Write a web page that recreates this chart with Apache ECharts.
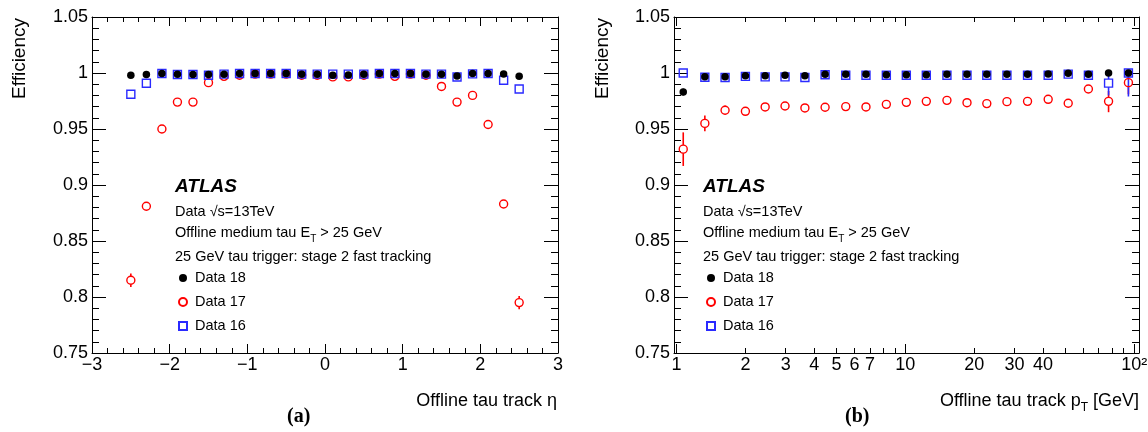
<!DOCTYPE html>
<html><head><meta charset="utf-8">
<script src="https://cdn.jsdelivr.net/npm/echarts@6/dist/echarts.min.js"></script>
<style>html,body{margin:0;padding:0;background:#fff}#c{width:1148px;height:432px}</style>
</head><body><div id="c"></div>
<script>
// ---------- data ----------
const etaBins = [-2.5,-2.3,-2.1,-1.9,-1.7,-1.5,-1.3,-1.1,-0.9,-0.7,-0.5,-0.3,-0.1,0.1,0.3,0.5,0.7,0.9,1.1,1.3,1.5,1.7,1.9,2.1,2.3,2.5];
const eta18 = [0.998,0.9986,0.9995,0.9988,0.9986,0.9986,0.9988,0.9995,0.9995,0.9995,0.9995,0.9988,0.9988,0.998,0.9982,0.9988,0.9995,0.9995,0.9995,0.9988,0.9988,0.9973,0.9995,0.9995,0.9991,0.997];
const eta17 = [0.815,0.881,0.950,0.974,0.974,0.9914,0.997,0.998,0.999,0.999,0.999,0.998,0.998,0.9965,0.9965,0.998,0.999,0.997,0.999,0.998,0.988,0.974,0.980,0.954,0.883,0.795];
const eta16 = [0.981,0.9908,0.9995,0.9986,0.9986,0.998,0.999,0.9995,0.9995,0.9995,0.9995,0.999,0.999,0.999,0.999,0.999,0.9995,0.9995,0.9995,0.999,0.999,0.9964,0.9992,0.9995,0.9935,0.9857];
const eta17Err = [[-2.5,0.809,0.821],[2.5,0.789,0.801]];

const ptBins = [1.07,1.33,1.63,2.0,2.44,2.98,3.64,4.46,5.49,6.73,8.26,10.1,12.35,15.2,18.6,22.7,27.8,34.2,42.1,51.5,63.1,77.3,94.4];
const pt18 = [0.983,0.9967,0.9967,0.9976,0.9976,0.998,0.9976,0.9988,0.9988,0.9988,0.9985,0.9985,0.9985,0.9988,0.9988,0.9988,0.9988,0.9988,0.999,0.9997,0.9988,1.0,1.0];
const pt17 = [0.932,0.955,0.9667,0.9658,0.9697,0.9705,0.9688,0.9694,0.970,0.9697,0.972,0.9738,0.9747,0.9756,0.9735,0.9727,0.9744,0.9747,0.9765,0.973,0.9857,0.9747,0.9914];
const pt16 = [1.0,0.9962,0.996,0.997,0.9965,0.9965,0.996,0.9985,0.998,0.998,0.998,0.998,0.998,0.998,0.998,0.998,0.998,0.998,0.998,0.999,0.998,0.991,1.0];
const pt18Err = [[1.07,0.980,0.986]];
const pt17Err = [[1.07,0.917,0.947],[1.33,0.948,0.962],[1.63,0.963,0.971],[63.1,0.9825,0.989],[77.3,0.965,0.984],[94.4,0.981,1.0]];
const pt16Err = [[1.07,0.997,1.0],[77.3,0.980,0.999],[94.4,0.979,1.0]];

const yTickLabels = ['0.75','0.8','0.85','0.9','0.95','1','1.05'];
const ptLabelValues = [1,2,3,4,5,6,7,10,20,30,40,100];
const ptMajorTicks = [1,10,100];
const ptMinorTicks = [2,3,4,5,6,7,8,9,20,30,40,50,60,70,80,90];
const names = ['Data 18','Data 17','Data 16'];

// ---------- styles ----------
const FONT = "'Liberation Sans', Arial, Helvetica, sans-serif";
const C18 = '#000000', C17 = '#ff0000', C16 = '#2a2aff';
const pair = (xs, ys) => xs.map((x,i) => [x, ys[i]]);
const withY = (errs, xs, ys) => errs.map(e => [e[0], ys[xs.indexOf(e[0])], e[1], e[2]]);

function errRender(color, r) {
  return function (params, api) {
    const x = api.value(0), y = api.value(1), lo = api.value(2), hi = api.value(3);
    const pc = api.coord([x, y]), ph = api.coord([x, hi]), pl = api.coord([x, lo]);
    const ch = [];
    if (pc[1] - ph[1] > r) ch.push({type:'line', shape:{x1:pc[0],y1:ph[1],x2:pc[0],y2:pc[1]-r}, style:{stroke:color,lineWidth:1.6}});
    if (pl[1] - pc[1] > r) ch.push({type:'line', shape:{x1:pc[0],y1:pc[1]+r,x2:pc[0],y2:pl[1]}, style:{stroke:color,lineWidth:1.6}});
    return {type:'group', children: ch};
  };
}

function seriesSet(xi, yi, xs, d18, d17, d16, e18, e17, e16) {
  const s = [];
  const err = (errs, ys, color, r) => ({
    type:'custom', xAxisIndex:xi, yAxisIndex:yi, renderItem: errRender(color, r),
    encode:{x:0, y:1}, data: withY(errs, xs, ys), silent:true, z:2
  });
  s.push(err(e17, d17, C17, 4));
  s.push({name:names[1], type:'scatter', xAxisIndex:xi, yAxisIndex:yi, data:pair(xs,d17),
    symbol:'circle', symbolSize:8, itemStyle:{color:'rgba(255,255,255,0)', borderColor:C17, borderWidth:1.4, opacity:1}, z:3});
  s.push(err(e16, d16, C16, 4));
  s.push({name:names[2], type:'scatter', xAxisIndex:xi, yAxisIndex:yi, data:pair(xs,d16),
    symbol:'rect', symbolSize:8, itemStyle:{color:'rgba(255,255,255,0)', borderColor:C16, borderWidth:1.4, opacity:1}, z:4});
  s.push(err(e18, d18, C18, 3));
  s.push({name:names[0], type:'scatter', xAxisIndex:xi, yAxisIndex:yi, data:pair(xs,d18),
    symbol:'circle', symbolSize:7.5, itemStyle:{color:C18, opacity:1}, z:5});
  return s;
}

const lineStyle = {color:'#000', width:1};
function yAxisDef(gi, pos, labels) {
  return {
    type:'value', gridIndex:gi, position:pos, min:0.75, max:1.05, interval:0.05,
    axisLine:{show:true, onZero:false, lineStyle},
    axisTick:{show:true, inside:true, length:14, lineStyle},
    minorTick:{show:true, splitNumber:5, length:7, lineStyle},
    splitLine:{show:false}, minorSplitLine:{show:false},
    axisLabel:{show:labels, margin:4, fontFamily:FONT, fontSize:18, color:'#000',
      formatter: v => yTickLabels[Math.round((v-0.75)/0.05)]}
  };
}
function etaAxis(pos, labels) {
  return {
    type:'value', gridIndex:0, position:pos, min:-3, max:3, interval:1,
    axisLine:{show:true, onZero:false, lineStyle},
    axisTick:{show:true, inside:true, length:9, lineStyle},
    minorTick:{show:true, splitNumber:5, length:5, lineStyle},
    splitLine:{show:false}, minorSplitLine:{show:false},
    axisLabel:{show:labels, margin:3, fontFamily:FONT, fontSize:18, color:'#000',
      formatter: v => String(v).replace('-', '\u2212')}
  };
}
function ptAxis(pos, ticks, len, labels, line) {
  return {
    type:'log', gridIndex:1, position:pos, min:0.975, max:105, logBase:10,
    axisLine:{show:line, onZero:false, lineStyle},
    axisTick:{show:true, inside:true, length:len, lineStyle, customValues:ticks},
    minorTick:{show:false}, splitLine:{show:false},
    axisLabel:{show:labels, margin:3, fontFamily:FONT, fontSize:18, color:'#000',
      customValues: labels ? ptLabelValues : undefined,
      formatter: v => (Math.abs(v-100) < 1e-6 ? '10\u00b2' : String(Math.round(v)))}
  };
}

function texts(x0) {
  const base = {fontFamily:FONT, fill:'#000'};
  return [
    {type:'text', x:x0, y:186.7, style:Object.assign({}, base, {text:'ATLAS', fontSize:19, fontWeight:'bold', fontStyle:'italic', verticalAlign:'middle'})},
    {type:'text', x:x0, y:211.7, style:Object.assign({}, base, {text:'Data \u221As=13TeV', fontSize:14.5, verticalAlign:'middle'})},
    {type:'text', x:x0, y:233.3, style:Object.assign({}, base, {text:'Offline medium tau E{sub|T} > 25 GeV', fontSize:14.5, verticalAlign:'middle',
      rich:{sub:{fontSize:10, fontFamily:FONT, padding:[12,0,0,0], lineHeight:10}}})},
    {type:'text', x:x0, y:256.7, style:Object.assign({}, base, {text:'25 GeV tau trigger: stage 2 fast tracking', fontSize:14.5, verticalAlign:'middle'})}
  ];
}
const axTitle = (x, y, txt, align, extra) => ({type:'text', x, y, style:Object.assign({text:txt, fontFamily:FONT, fontSize:18, fill:'#000', align, verticalAlign:'middle'}, extra||{})});
const legendDef = (left) => ({data:names, orient:'vertical', left, top:270, padding:0, itemWidth:8, itemHeight:8, itemGap:8, selectedMode:false,
  textStyle:{fontFamily:FONT, fontSize:14.5, color:'#000', lineHeight:16, padding:[0,0,0,3]}});

const chart = echarts.init(document.getElementById('c'), null, {renderer:'canvas'});
chart.setOption({
  backgroundColor:'#fff',
  animation:false,
  grid:[
    {left:92, top:17, width:466, height:336, outerBoundsMode:'none', containLabel:false},
    {left:674, top:17, width:465, height:336, outerBoundsMode:'none', containLabel:false}
  ],
  xAxis:[
    etaAxis('bottom', true),
    etaAxis('top', false),
    ptAxis('bottom', ptMajorTicks, 9, true, true),
    ptAxis('bottom', ptMinorTicks, 5, false, false),
    ptAxis('top', ptMajorTicks, 9, false, true),
    ptAxis('top', ptMinorTicks, 5, false, false)
  ],
  yAxis:[
    yAxisDef(0, 'left', true),
    yAxisDef(0, 'right', false),
    yAxisDef(1, 'left', true),
    yAxisDef(1, 'right', false)
  ],
  legend:[legendDef(178), legendDef(706)],
  graphic:[].concat(
    texts(175), texts(703),
    [
      axTitle(557, 400.7, 'Offline tau track \u03b7', 'right'),
      axTitle(1139, 400.7, 'Offline tau track p{sub|T} [GeV]', 'right', {rich:{sub:{fontSize:12, fontFamily:FONT, padding:[13,0,0,0], lineHeight:12}}}),
      axTitle(298.7, 417, '(a)', 'center', {fontFamily:"'Liberation Serif', 'DejaVu Serif', serif", fontWeight:'bold', fontSize:20}),
      axTitle(857.3, 417, '(b)', 'center', {fontFamily:"'Liberation Serif', 'DejaVu Serif', serif", fontWeight:'bold', fontSize:20}),
      {type:'text', x:20, y:18, rotation:Math.PI/2, style:{text:'Efficiency', fontFamily:FONT, fontSize:19, fill:'#000', align:'right', verticalAlign:'middle'}},
      {type:'text', x:603, y:18, rotation:Math.PI/2, style:{text:'Efficiency', fontFamily:FONT, fontSize:19, fill:'#000', align:'right', verticalAlign:'middle'}}
    ]
  ),
  series:[].concat(
    seriesSet(0, 0, etaBins, eta18, eta17, eta16, [], eta17Err, []),
    seriesSet(2, 2, ptBins, pt18, pt17, pt16, pt18Err, pt17Err, pt16Err)
  )
});
</script>
</body></html>
